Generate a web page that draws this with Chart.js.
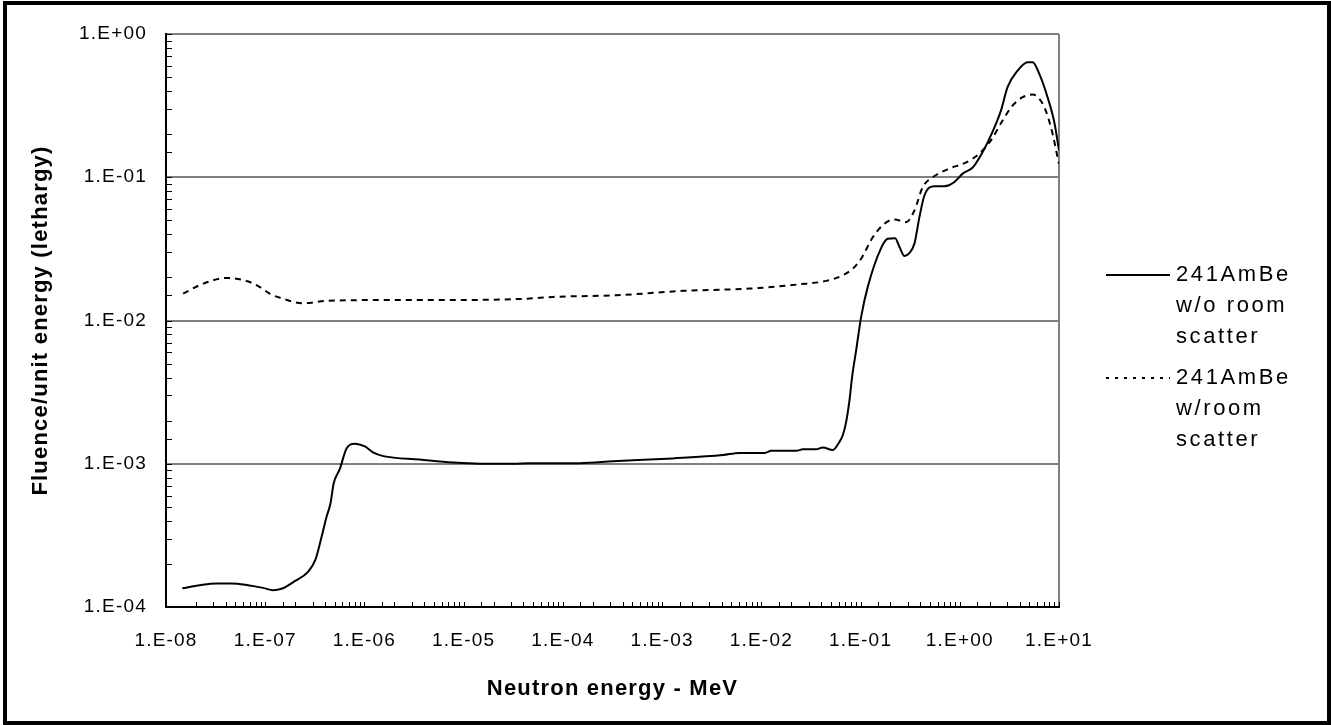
<!DOCTYPE html>
<html>
<head>
<meta charset="utf-8">
<script src="https://cdn.jsdelivr.net/npm/chart.js@4/dist/chart.umd.min.js"></script>
<style>
  html, body { margin: 0; padding: 0; background: #fff; }
  #wrap { position: relative; width: 1331px; height: 725px; }
  #frame { position: absolute; left: 3px; top: 1px; width: 1320px; height: 716px; border: 4px solid #000; pointer-events: none; }
  #legend { position: absolute; left: 1104px; top: 258px; font-family: Arial, "Liberation Sans", sans-serif; font-size: 22px; letter-spacing: 2.6px; color: #000; }
  .item { position: relative; padding-left: 72px; line-height: 31px; margin-bottom: 10px; }
  .item svg { position: absolute; left: 0; top: 15px; }
</style>
</head>
<body>
<div id="wrap">
  <canvas id="chart" width="1331" height="725"></canvas>
  <div id="frame"></div>
  <div id="legend">
    <div class="item"><svg width="66" height="4"><line x1="2" y1="2" x2="66" y2="2" stroke="#000" stroke-width="2"/></svg>241AmBe<br>w/o room<br>scatter</div>
    <div class="item"><svg width="66" height="4"><line x1="2" y1="2" x2="66" y2="2" stroke="#000" stroke-width="2" stroke-dasharray="3,6"/></svg>241AmBe<br>w/room<br>scatter</div>
  </div>
</div>
<script>
// energy in MeV, fluence per unit lethargy
const energyNoScatter = [
  1.46e-8, 2.2e-8, 3.2e-8, 4.6e-8, 6.7e-8, 9.5e-8, 1.2e-7, 1.46e-7, 2.0e-7, 2.7e-7,
  3.2e-7, 3.7e-7, 4.15e-7, 4.55e-7, 4.9e-7, 5.65e-7, 6.6e-7, 8.0e-7, 1.01e-6, 1.22e-6,
  1.55e-6, 3.6e-6, 7.8e-6, 1.45e-5, 3.15e-5, 4.6e-5, 1.48e-4, 3.2e-4, 1.28e-3, 4.1e-3,
  6.0e-3, 0.0108, 0.0126, 0.0225, 0.0262, 0.0357, 0.0416, 0.0525, 0.0612, 0.0662,
  0.0716, 0.0773, 0.0822, 0.0903, 0.1014, 0.118, 0.161, 0.188, 0.223, 0.247,
  0.277, 0.31, 0.349, 0.392, 0.44, 0.555, 0.70, 0.88, 1.07, 1.35,
  1.7, 2.06, 2.6, 3.03, 3.83, 4.83, 5.42, 6.33, 7.67, 8.97, 10.0
];
const fluenceNoScatter = [
  1.35e-4, 1.42e-4, 1.46e-4, 1.46e-4, 1.42e-4, 1.36e-4, 1.31e-4, 1.34e-4, 1.52e-4, 1.76e-4,
  2.13e-4, 3.09e-4, 4.26e-4, 5.3e-4, 7.3e-4, 9.2e-4, 1.28e-3, 1.38e-3, 1.32e-3, 1.2e-3,
  1.13e-3, 1.07e-3, 1.02e-3, 1.0e-3, 1.0e-3, 1.01e-3, 1.01e-3, 1.04e-3, 1.09e-3, 1.15e-3,
  1.19e-3, 1.19e-3, 1.23e-3, 1.23e-3, 1.26e-3, 1.26e-3, 1.30e-3, 1.245e-3, 1.42e-3, 1.58e-3,
  1.96e-3, 2.77e-3, 4.04e-3, 6.2e-3, 1.06e-2, 1.71e-2, 3.2e-2, 3.72e-2, 3.75e-2, 3.26e-2,
  2.82e-2, 2.95e-2, 3.44e-2, 5.27e-2, 7.46e-2, 8.67e-2, 8.67e-2, 9.25e-2, 0.106, 0.117,
  0.15, 0.196, 0.292, 0.425, 0.556, 0.635, 0.635, 0.527, 0.362, 0.242, 0.154
];

const energyScatter = [
  1.49e-8, 2.38e-8, 4.08e-8, 6.75e-8, 8.85e-8, 1.11e-7, 1.41e-7, 2.42e-7, 4.15e-7, 1.95e-6,
  9.1e-6, 4.3e-5, 7.9e-5, 3.46e-4, 1.62e-3, 7.6e-3, 0.0243, 0.0451, 0.0662, 0.0834,
  0.1014, 0.133, 0.174, 0.219, 0.288, 0.349, 0.423, 0.533, 0.785, 1.16,
  1.57, 2.06, 2.7, 3.41, 4.3, 5.42, 6.84, 8.3, 10.0
];
const fluenceScatter = [
  1.54e-2, 1.81e-2, 1.98e-2, 1.87e-2, 1.71e-2, 1.54e-2, 1.44e-2, 1.32e-2, 1.37e-2, 1.39e-2,
  1.39e-2, 1.42e-2, 1.46e-2, 1.50e-2, 1.61e-2, 1.67e-2, 1.79e-2, 1.89e-2, 2.07e-2, 2.3e-2,
  2.7e-2, 3.82e-2, 4.74e-2, 5.08e-2, 4.86e-2, 5.86e-2, 8.53e-2, 0.100, 0.115, 0.127,
  0.146, 0.181, 0.249, 0.317, 0.362, 0.378, 0.326, 0.223, 0.124
];

const seriesLabels = ['241AmBe w/o room scatter', '241AmBe w/room scatter'];

const toPoints = (xs, ys) => xs.map((x, i) => ({ x: x, y: ys[i] }));

// 1.E-08 style, only on decades
const isDecade = v => Math.abs(Math.log10(v) - Math.round(Math.log10(v))) < 1e-6;
const fmtExp = v => {
  const e = Math.round(Math.log10(v));
  const s = e < 0 ? '-' : '+';
  return '1.E' + s + String(Math.abs(e)).padStart(2, '0');
};

// excel-like wide text + inward minor ticks
const excelLook = {
  id: 'excelLook',
  beforeUpdate(chart) { chart.ctx.letterSpacing = '1.2px'; },
  beforeDraw(chart) { chart.ctx.letterSpacing = '1.2px'; },
  afterDatasetsDraw(chart) {
    const ctx = chart.ctx;
    const xs = chart.scales.x, ys = chart.scales.y;
    const area = chart.chartArea;
    ctx.save();
    ctx.strokeStyle = '#000';
    ctx.lineWidth = 1;
    ctx.beginPath();
    xs.ticks.forEach(t => {
      const px = Math.round(xs.getPixelForValue(t.value)) + 0.5;
      ctx.moveTo(px, area.bottom);
      ctx.lineTo(px, area.bottom - 5);
    });
    ys.ticks.forEach(t => {
      const py = Math.round(ys.getPixelForValue(t.value)) + 0.5;
      ctx.moveTo(area.left, py);
      ctx.lineTo(area.left + 6, py);
    });
    ctx.stroke();
    ctx.restore();
  }
};

const ctx = document.getElementById('chart').getContext('2d');
new Chart(ctx, {
  type: 'line',
  data: {
    datasets: [{
      label: seriesLabels[0],
      data: toPoints(energyNoScatter, fluenceNoScatter),
      borderColor: '#000',
      borderWidth: 2,
      pointRadius: 0,
      cubicInterpolationMode: 'monotone',
      fill: false
    }, {
      label: seriesLabels[1],
      data: toPoints(energyScatter, fluenceScatter),
      borderColor: '#000',
      borderWidth: 2,
      borderDash: [6, 5],
      pointRadius: 0,
      cubicInterpolationMode: 'monotone',
      fill: false
    }]
  },
  options: {
    responsive: false,
    animation: false,
    layout: { padding: { left: 28, top: 34, right: 272, bottom: 23 } },
    plugins: {
      legend: { display: false },
      tooltip: { enabled: false }
    },
    scales: {
      x: {
        type: 'logarithmic',
        min: 1e-8,
        max: 10,
        afterFit: s => { s.height = 95; },
        border: { color: '#000', width: 2 },
        grid: {
          drawTicks: false,
          color: c => (c.tick && c.tick.value === 10) ? '#808080' : 'rgba(0,0,0,0)',
          lineWidth: 2
        },
        ticks: {
          autoSkip: false,
          maxRotation: 0,
          padding: 22,
          color: '#000',
          font: { family: 'Arial, "Liberation Sans"', size: 19 },
          callback: v => isDecade(v) ? fmtExp(v) : ''
        },
        title: {
          display: true,
          text: 'Neutron energy - MeV',
          color: '#000',
          padding: 0,
          font: { family: 'Arial, "Liberation Sans"', size: 22, weight: 'bold' }
        }
      },
      y: {
        type: 'logarithmic',
        min: 1e-4,
        max: 1,
        afterFit: s => { s.width = 138; },
        border: { color: '#000', width: 2 },
        grid: {
          drawTicks: false,
          color: c => (c.tick && isDecade(c.tick.value)) ? '#808080' : 'rgba(0,0,0,0)',
          lineWidth: 2
        },
        ticks: {
          autoSkip: false,
          padding: 19,
          color: '#000',
          font: { family: 'Arial, "Liberation Sans"', size: 19 },
          callback: v => isDecade(v) ? fmtExp(v) : ''
        },
        title: {
          display: true,
          text: 'Fluence/unit energy (lethargy)',
          color: '#000',
          padding: 0,
          font: { family: 'Arial, "Liberation Sans"', size: 22, weight: 'bold' }
        }
      }
    }
  },
  plugins: [excelLook]
});
</script>
</body>
</html>
